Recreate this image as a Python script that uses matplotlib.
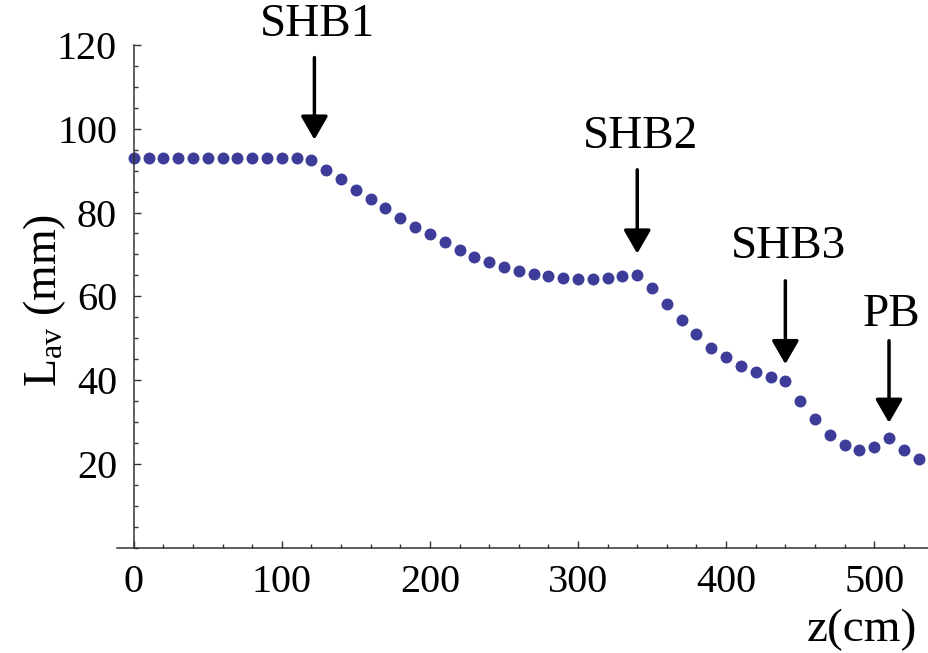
import matplotlib
matplotlib.use("Agg")
import matplotlib.pyplot as plt
from matplotlib.ticker import MultipleLocator

plt.rcParams["font.family"] = ["Liberation Serif", "DejaVu Serif"]
plt.rcParams["mathtext.fontset"] = "custom"
plt.rcParams["mathtext.rm"] = "Liberation Serif"
plt.rcParams["mathtext.it"] = "Liberation Serif:italic"

# z positions (cm), one point every 10 cm
z_cm = list(range(0, 540, 10))
# average length L_av (mm)
l_av = [93.1, 93.1, 93.1, 93.1, 93.1, 93.1, 93.1, 93.1, 93.1, 93.1,
        93.1, 93.1, 92.6, 90.1, 88.0, 85.4, 83.2, 81.0, 78.8, 76.6,
        74.8, 73.0, 71.0, 69.4, 68.2, 66.9, 66.0, 65.4, 64.8, 64.4,
        64.1, 64.1, 64.4, 64.8, 65.2, 62.0, 58.2, 54.4, 51.0, 47.6,
        45.5, 43.3, 41.9, 40.7, 39.7, 35.0, 30.6, 26.8, 24.5, 23.4,
        24.0, 26.2, 23.3, 21.2]

# annotations: name, z of arrow, arrow tip, arrow tail, text centre
marks = ["SHB1", "SHB2", "SHB3", "PB"]
mark_z = [122, 340, 440, 510]
mark_tip = [97.4, 70.2, 43.8, 29.8]
mark_tail = [117.0, 90.2, 63.7, 49.4]
mark_text = [124.8, 98.1, 71.9, 55.6]

fig = plt.figure(figsize=(9.29, 6.53), dpi=100)
ax = fig.add_axes([0.1264, 0.1614, 0.8736, 0.7697])

ax.plot(z_cm, l_av, "o", color="#3d3d99", markersize=8.6, markeredgewidth=0,
        clip_on=False)

for name, z, tip, tail, ty in zip(marks, mark_z, mark_tip, mark_tail, mark_text):
    ax.annotate("", xy=(z, tip), xytext=(z, tail),
                arrowprops=dict(arrowstyle="-|>,head_length=0.45,head_width=0.26",
                                mutation_scale=32, color="black", lw=2.5,
                                shrinkA=0, shrinkB=0),
                annotation_clip=False)
    ax.text(z + 2, ty, name, fontsize=34, ha="center", va="center",
            clip_on=False)

ax.set_xlim(-11, 537)
ax.set_ylim(0, 120)

for s in ["top", "right"]:
    ax.spines[s].set_visible(False)
ax.spines["left"].set_position(("data", 0))
ax.spines["bottom"].set_position(("data", 0))
ax.spines["left"].set_bounds(0, 120)
for s in ["left", "bottom"]:
    ax.spines[s].set_color("#333333")
    ax.spines[s].set_linewidth(1.1)

ax.set_xticks([0, 100, 200, 300, 400, 500])
ax.set_yticks([20, 40, 60, 80, 100, 120])
ax.xaxis.set_minor_locator(MultipleLocator(20))
ax.yaxis.set_minor_locator(MultipleLocator(5))
ax.tick_params(which="both", direction="in", color="#333333", width=1.0,
               labelsize=29)
ax.tick_params(which="major", length=5)
ax.tick_params(which="minor", length=3)
ax.tick_params(axis="x", pad=12)
ax.tick_params(axis="y", pad=12)

fig.text(0.048, 0.54, "L$_{\\mathrm{av}}$ (mm)", rotation=90, fontsize=33,
         ha="center", va="center")
fig.text(0.987, 0.035, "z(cm)", fontsize=34, ha="right", va="center")

fig.savefig("out.png", dpi=100)
